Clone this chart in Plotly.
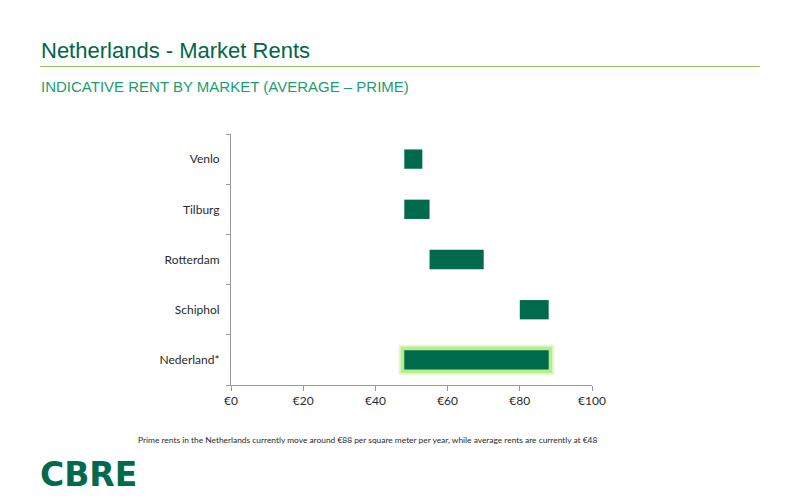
import plotly.graph_objects as go

# Data
markets = ["Venlo", "Tilburg", "Rotterdam", "Schiphol", "Nederland*"]
average_rent = [48, 48, 55, 80, 48]
prime_rent = [53, 55, 70, 88, 88]
tick_vals = [0, 20, 40, 60, 80, 100]
tick_text = ["€0", "€20", "€40", "€60", "€80", "€100"]

OFF = 8  # page body margin
W, H = 800 - OFF, 504 - OFF
L, R, T, B = 231 - OFF, 592 - OFF, 134 - OFF, 385 - OFF  # plot area in figure pixels

def px(x):
    return (x - OFF - L) / (R - L)

def py(y):
    return (B - (y - OFF)) / (B - T)

DARK = "#006A4D"
LABEL_FONT = "Lato"
TEXT_COL = "#2a2a2a"

span = [p - a for p, a in zip(prime_rent, average_rent)]
highlight = [m == "Nederland*" for m in markets]

fig = go.Figure()

# soft glow behind highlighted bar (two layers)
for lw, col in [(11, "rgba(190,240,150,0.45)"), (7, "rgba(175,235,125,0.85)")]:
    fig.add_trace(go.Bar(
        y=[m for m, h in zip(markets, highlight) if h],
        x=[s for s, h in zip(span, highlight) if h],
        base=[a for a, h in zip(average_rent, highlight) if h],
        orientation="h",
        width=0.385,
        marker=dict(color=col, line=dict(color=col, width=lw)),
        hoverinfo="skip",
        showlegend=False,
    ))

fig.add_trace(go.Bar(
    y=markets,
    x=span,
    base=average_rent,
    orientation="h",
    width=0.385,
    marker=dict(color=DARK, line=dict(width=0)),
    showlegend=False,
))

fig.update_layout(
    width=W, height=H,
    margin=dict(l=L, r=W - R, t=T, b=H - B, pad=0),
    paper_bgcolor="white",
    plot_bgcolor="white",
    barmode="overlay",
    xaxis=dict(
        range=[0, 100],
        tickvals=tick_vals,
        ticktext=tick_text,
        showgrid=False,
        zeroline=False,
        showline=True,
        linecolor="#9a9a9a",
        linewidth=1,
        ticks="outside",
        ticklen=5,
        tickcolor="#9a9a9a",
        tickfont=dict(family=LABEL_FONT, size=12, color=TEXT_COL),
        fixedrange=True,
    ),
    yaxis=dict(
        categoryorder="array",
        categoryarray=markets[::-1],
        showgrid=False,
        zeroline=False,
        showline=True,
        linecolor="#9a9a9a",
        linewidth=1,
        ticks="outside",
        ticklen=4,
        tickcolor="#9a9a9a",
        tickson="boundaries",
        ticklabelstandoff=8,
        tickfont=dict(family=LABEL_FONT, size=12, color=TEXT_COL),
        fixedrange=True,
    ),
    font=dict(family=LABEL_FONT),
)

annotations = [
    dict(text="Netherlands - Market Rents", x=px(39), y=py(50), xanchor="left", yanchor="middle",
         font=dict(family="Liberation Sans", size=22, color="#00664A")),
    dict(text="INDICATIVE RENT BY MARKET (AVERAGE – PRIME)", x=px(39), y=py(87), xanchor="left", yanchor="middle",
         font=dict(family="Liberation Sans", size=15, color="#1B9E6E")),
    dict(text="Prime rents in the Netherlands currently move around €88 per square meter per year, while average rents are currently at €48",
         x=px(367), y=py(440), xanchor="center", yanchor="middle",
         font=dict(family=LABEL_FONT, size=8.4, color=TEXT_COL)),
    dict(text="<b>CBRE</b>", x=px(38), y=py(474), xanchor="left", yanchor="middle",
         font=dict(family="DejaVu Sans", size=33, color="#006A4D")),
]
for a in annotations:
    a.update(xref="paper", yref="paper", showarrow=False)
fig.update_layout(annotations=annotations)

fig.add_shape(type="line", xref="paper", yref="paper",
              x0=px(40), x1=px(760), y0=py(66.5), y1=py(66.5),
              line=dict(color="#8DCB5A", width=1.2))

fig.write_html("out.html")
